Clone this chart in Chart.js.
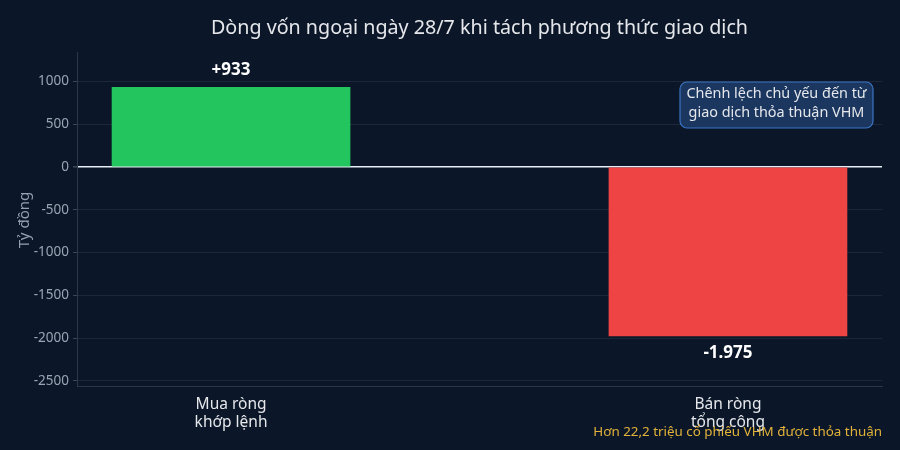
<!DOCTYPE html>
<html>
<head>
<meta charset="utf-8">
<script src="https://cdn.jsdelivr.net/npm/chart.js@4.4.1/dist/chart.umd.min.js"></script>
<style>
html,body{margin:0;padding:0;background:#0b1728;}
#wrap{width:900px;height:450px;position:relative;}
</style>
</head>
<body>
<div id="wrap"><canvas id="c" width="900" height="450"></canvas></div>
<script>
const categories = [["Mua ròng","khớp lệnh"],["Bán ròng","tổng công"]];
const values = [933, -1975];
const valueLabels = ["+933", "-1.975"];
const barColors = ["#22c55e", "#ef4444"];
const yTicks = [-2500, -2000, -1500, -1000, -500, 0, 500, 1000];
const titleText = "Dòng vốn ngoại ngày 28/7 khi tách phương thức giao dịch";
const yTitle = "Tỷ đồng";
const noteLines = ["Chênh lệch chủ yếu đến từ", "giao dịch thỏa thuận VHM"];
const footerText = "Hơn 22,2 triệu cổ phiếu VHM được thỏa thuận";

const FONT = "'Noto Sans', 'Open Sans', sans-serif";

const overlay = {
  id: 'overlay',
  afterDatasetsDraw(chart) {
    const ctx = chart.ctx;
    const area = chart.chartArea;
    ctx.save();
    // title
    ctx.fillStyle = '#e5e7eb';
    ctx.font = '19.7px ' + FONT;
    ctx.textAlign = 'center';
    ctx.textBaseline = 'middle';
    ctx.fillText(titleText, (area.left + area.right) / 2, 28);
    // y title
    ctx.save();
    ctx.translate(25, 220);
    ctx.rotate(-Math.PI / 2);
    ctx.fillStyle = '#949fb0';
    ctx.font = '15px ' + FONT;
    ctx.fillText(yTitle, 0, 0);
    ctx.restore();
    // value labels
    const meta = chart.getDatasetMeta(0);
    ctx.font = 'bold 17px ' + FONT;
    ctx.fillStyle = '#ffffff';
    meta.data.forEach((bar, i) => {
      const y = values[i] >= 0 ? bar.y - 17 : bar.y + 17;
      ctx.fillText(valueLabels[i], bar.x, y);
    });
    // annotation box
    const bx = 680, by = 82, bw = 193, bh = 46, r = 7;
    ctx.beginPath();
    ctx.moveTo(bx + r, by);
    ctx.arcTo(bx + bw, by, bx + bw, by + bh, r);
    ctx.arcTo(bx + bw, by + bh, bx, by + bh, r);
    ctx.arcTo(bx, by + bh, bx, by, r);
    ctx.arcTo(bx, by, bx + bw, by, r);
    ctx.closePath();
    ctx.fillStyle = '#1b3760';
    ctx.fill();
    ctx.lineWidth = 1.2;
    ctx.strokeStyle = '#3b73c4';
    ctx.stroke();
    ctx.fillStyle = '#e5e7eb';
    ctx.font = '14.4px ' + FONT;
    ctx.fillText(noteLines[0], bx + bw / 2, 94);
    ctx.fillText(noteLines[1], bx + bw / 2, 113);
    // footer
    ctx.textAlign = 'right';
    ctx.fillStyle = '#e2b23a';
    ctx.font = '13.4px ' + FONT;
    ctx.fillText(footerText, area.right, 432);
    ctx.restore();
  }
};

new Chart(document.getElementById('c'), {
  type: 'bar',
  data: {
    datasets: [{
      data: values.map((v, i) => ({x: i, y: v})),
      backgroundColor: barColors,
      borderWidth: 0,
      barThickness: 238
    }]
  },
  options: {
    responsive: false,
    animation: false,
    devicePixelRatio: 1,
    layout: {padding: {top: 52, right: 18, bottom: 0, left: 0}},
    plugins: {legend: {display: false}, tooltip: {enabled: false}, title: {display: false}},
    scales: {
      x: {
        type: 'linear',
        offset: false,
        min: -0.31,
        max: 1.31,
        afterFit(s) { s.height = 64; },
        afterBuildTicks(s) { s.ticks = categories.map((c, i) => ({value: i})); },
        grid: {display: false, drawTicks: false, offset: false},
        border: {display: true, color: '#2a384c', width: 1},
        ticks: {
          color: '#e5e7eb',
          font: {family: FONT, size: 15.5, lineHeight: 1.15},
          padding: 10,
          maxRotation: 0,
          autoSkip: false,
          callback: (v) => categories[v] || ''
        }
      },
      y: {
        min: -2560,
        max: 1345,
        afterFit(s) { s.width = 77; },
        afterBuildTicks(s) { s.ticks = yTicks.map(v => ({value: v})); },
        grid: {
          color: (c) => c.tick && c.tick.value === 0 ? '#e8eef6' : '#1c2839',
          lineWidth: (c) => c.tick && c.tick.value === 0 ? 1.6 : 1,
          tickColor: '#3a4658',
          tickLength: 4,
          drawTicks: true
        },
        border: {display: true, color: '#2a384c', width: 1},
        ticks: {
          color: '#9aa4b3',
          font: {family: FONT, size: 13.5},
          padding: 4,
          callback: (v) => String(v)
        }
      }
    }
  },
  plugins: [overlay]
});
</script>
</body>
</html>
